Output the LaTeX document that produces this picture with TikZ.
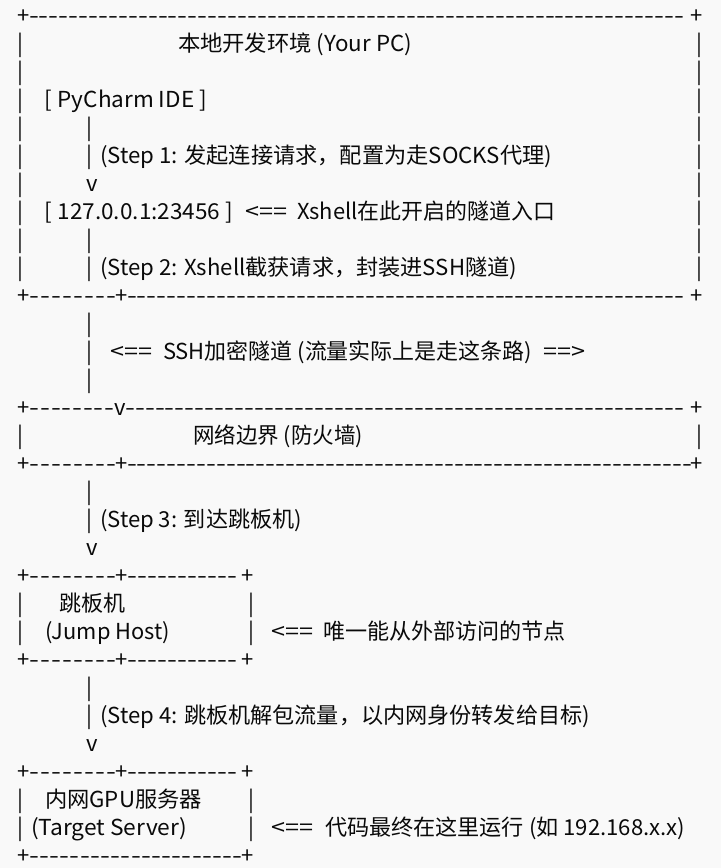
\documentclass[tikz,border=0pt]{standalone}
\usepackage{fontspec}
\usepackage{graphicx}
\setmainfont{Noto Sans CJK SC}
\definecolor{bgc}{RGB}{249,249,249}
\definecolor{ink}{RGB}{10,10,10}
\newcommand\txat[5]{\node[txt] (#1) at (#2,#3) {\resizebox{#4pt}{\height}{#5}};}
\newcommand\glat[4]{\node[gly] (#1) at (#2,#3) {#4};}
\newcommand\dashat[4]{\node[txt] (#1) at (#2,#3) {\hbox to #4pt{\xleaders\hbox to 9.9pt{\hss\scalebox{1.3}[1]{-}\hss}\hfill}};}
\begin{document}
\begin{tikzpicture}[x=1pt,y=-1pt,
  font=\fontsize{22pt}{26pt}\selectfont, text=ink,
  txt/.style={anchor=base west,inner sep=0pt,outer sep=0pt},
  gly/.style={anchor=base,inner sep=0pt,outer sep=0pt}]
\useasboundingbox (0,0) rectangle (721,868);
\fill[bgc] (0,0) rectangle (721,868);
% row 0
\glat{p0a}{24}{23}{+}
\dashat{d0a}{29}{23}{655}
\glat{p0b}{697}{23}{+}
% row 1
\glat{l1}{20}{51}{|}
\txat{t1}{178}{51}{234}{本地开发环境 (Your PC)}
\glat{r1}{699}{51}{|}
% row 2
\glat{l2}{20}{79}{|}
\glat{r2}{699}{79}{|}
% row 3
\glat{l3}{20}{107}{|}
\txat{t3}{45}{107}{162}{[ PyCharm IDE ]}
\glat{r3}{699}{107}{|}
% row 4
\glat{l4}{20}{135}{|}
\glat{m4}{89}{135}{|}
\glat{r4}{699}{135}{|}
% row 5
\glat{l5}{20}{163}{|}
\glat{m5}{89}{163}{|}
\txat{t5}{100}{163}{452}{(Step 1: 发起连接请求，配置为走SOCKS代理)}
\glat{r5}{699}{163}{|}
% row 6
\glat{l6}{20}{191}{|}
\glat{v6}{92}{191}{v}
\glat{r6}{699}{191}{|}
% row 7
\glat{l7}{20}{219}{|}
\txat{t7a}{45}{219}{188}{[ 127.0.0.1:23456 ]}
\txat{t7b}{245}{219}{42}{<==}
\txat{t7c}{297}{219}{258}{Xshell在此开启的隧道入口}
\glat{r7}{699}{219}{|}
% row 8
\glat{l8}{20}{247}{|}
\glat{m8}{89}{247}{|}
\glat{r8}{699}{247}{|}
% row 9
\glat{l9}{20}{275}{|}
\glat{m9}{89}{275}{|}
\txat{t9}{100}{275}{417}{(Step 2: Xshell截获请求，封装进SSH隧道)}
\glat{r9}{699}{275}{|}
% row 10
\glat{p10a}{24}{303}{+}
\dashat{d10a}{29}{303}{88}
\glat{p10b}{122}{303}{+}
\dashat{d10b}{127}{303}{557}
\glat{p10c}{697}{303}{+}
% rows 11-13
\glat{m11}{89}{331}{|}
\glat{m12}{89}{359}{|}
\txat{t12a}{110}{359}{42}{<==}
\txat{t12b}{163}{359}{369}{SSH加密隧道 (流量实际上是走这条路)}
\txat{t12c}{543}{359}{42}{==>}
\glat{m13}{89}{387}{|}
% row 14
\glat{p14a}{24}{415}{+}
\dashat{d14a}{29}{415}{86}
\glat{v14}{120}{415}{v}
\dashat{d14b}{125}{415}{559}
\glat{p14b}{697}{415}{+}
% row 15
\glat{l15}{20}{443}{|}
\txat{t15}{193}{443}{170}{网络边界 (防火墙)}
\glat{r15}{699}{443}{|}
% row 16
\glat{p16a}{24}{471}{+}
\dashat{d16a}{29}{471}{88}
\glat{p16b}{122}{471}{+}
\dashat{d16b}{127}{471}{565}
\glat{p16c}{697}{471}{+}
% rows 17-19
\glat{m17}{89}{499}{|}
\glat{m18}{89}{527}{|}
\txat{t18}{100}{527}{202}{(Step 3: 到达跳板机)}
\glat{v19}{92}{555}{v}
% row 20
\glat{p20a}{24}{583}{+}
\dashat{d20a}{29}{583}{88}
\glat{p20b}{122}{583}{+}
\dashat{d20b}{127}{583}{111}
\glat{p20c}{248}{583}{+}
% row 21
\glat{l21}{20}{611}{|}
\txat{t21}{59}{611}{66}{跳板机}
\glat{r21}{251}{611}{|}
% row 22
\glat{l22}{20}{639}{|}
\txat{t22a}{45}{639}{125}{(Jump Host)}
\glat{r22}{251}{639}{|}
\txat{t22b}{271}{639}{42}{<==}
\txat{t22c}{323}{639}{243}{唯一能从外部访问的节点}
% row 23
\glat{p23a}{24}{667}{+}
\dashat{d23a}{29}{667}{88}
\glat{p23b}{122}{667}{+}
\dashat{d23b}{127}{667}{111}
\glat{p23c}{248}{667}{+}
% rows 24-26
\glat{m24}{89}{695}{|}
\glat{m25}{89}{723}{|}
\txat{t25}{100}{723}{490}{(Step 4: 跳板机解包流量，以内网身份转发给目标)}
\glat{v26}{92}{751}{v}
% row 27
\glat{p27a}{24}{779}{+}
\dashat{d27a}{29}{779}{88}
\glat{p27b}{122}{779}{+}
\dashat{d27b}{127}{779}{111}
\glat{p27c}{248}{779}{+}
% row 28
\glat{l28}{20}{807}{|}
\txat{t28}{45}{807}{157}{内网GPU服务器}
\glat{r28}{251}{807}{|}
% row 29
\glat{l29}{20}{835}{|}
\txat{t29a}{31}{835}{156}{(Target Server)}
\glat{r29}{251}{835}{|}
\txat{t29b}{271}{835}{42}{<==}
\txat{t29c}{325}{835}{360}{代码最终在这里运行 (如 192.168.x.x)}
% row 30
\glat{p30a}{24}{863}{+}
\dashat{d30a}{29}{863}{214}
\glat{p30b}{248}{863}{+}
\end{tikzpicture}
\end{document}
